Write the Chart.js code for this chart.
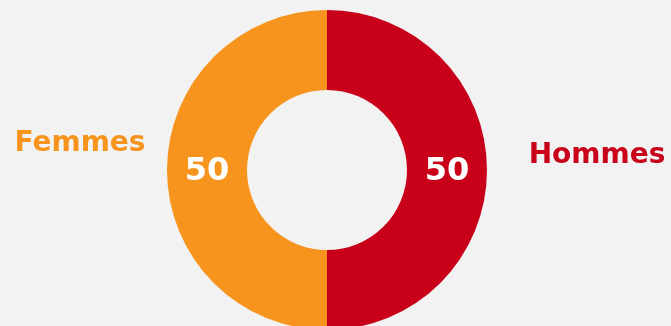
<!DOCTYPE html>
<html>
<head>
<meta charset="utf-8">
<script src="https://cdn.jsdelivr.net/npm/chart.js@4/dist/chart.umd.min.js"></script>
<style>
  html, body { margin: 0; padding: 0; background: #f2f2f2; overflow: hidden; }
  #wrap { position: relative; width: 671px; height: 330px; }
</style>
</head>
<body>
<div id="wrap"><canvas id="chart"></canvas></div>
<script>
// Répartition par sexe
const categories = ['Hommes', 'Femmes'];
const values = [50, 50];
const colors = ['#c8001a', '#f7941e'];

// Écrit la valeur au centre de chaque secteur et le nom à côté de l'anneau
const sliceLabels = {
  id: 'sliceLabels',
  afterDatasetsDraw(chart) {
    const ctx = chart.ctx;
    const meta = chart.getDatasetMeta(0);
    ctx.save();
    ctx.textAlign = 'center';
    ctx.textBaseline = 'middle';
    meta.data.forEach((arc, i) => {
      const p = arc.tooltipPosition();
      ctx.fillStyle = '#ffffff';
      ctx.font = 'bold 32px "DejaVu Sans"';
      ctx.fillText(String(values[i]), p.x, p.y + 2);
    });
    const first = meta.data[0];
    const cx = first.x, cy = first.y, r = first.outerRadius;
    ctx.font = 'bold 28px "DejaVu Sans"';
    // Hommes à droite
    ctx.fillStyle = colors[0];
    ctx.fillText(categories[0], cx + r + 110, cy - 14);
    // Femmes à gauche
    ctx.fillStyle = colors[1];
    ctx.fillText(categories[1], cx - r - 87, cy - 26);
    ctx.restore();
  }
};

new Chart(document.getElementById('chart'), {
  type: 'doughnut',
  data: {
    labels: categories,
    datasets: [{
      data: values,
      backgroundColor: colors,
      borderWidth: 0,
      hoverOffset: 0
    }]
  },
  options: {
    responsive: true,
    maintainAspectRatio: false,
    animation: false,
    cutout: '50%',
    layout: { padding: { top: 10, bottom: 0, left: 0, right: 17 } },
    plugins: {
      legend: { display: false },
      tooltip: { enabled: false }
    }
  },
  plugins: [sliceLabels]
});
</script>
</body>
</html>
